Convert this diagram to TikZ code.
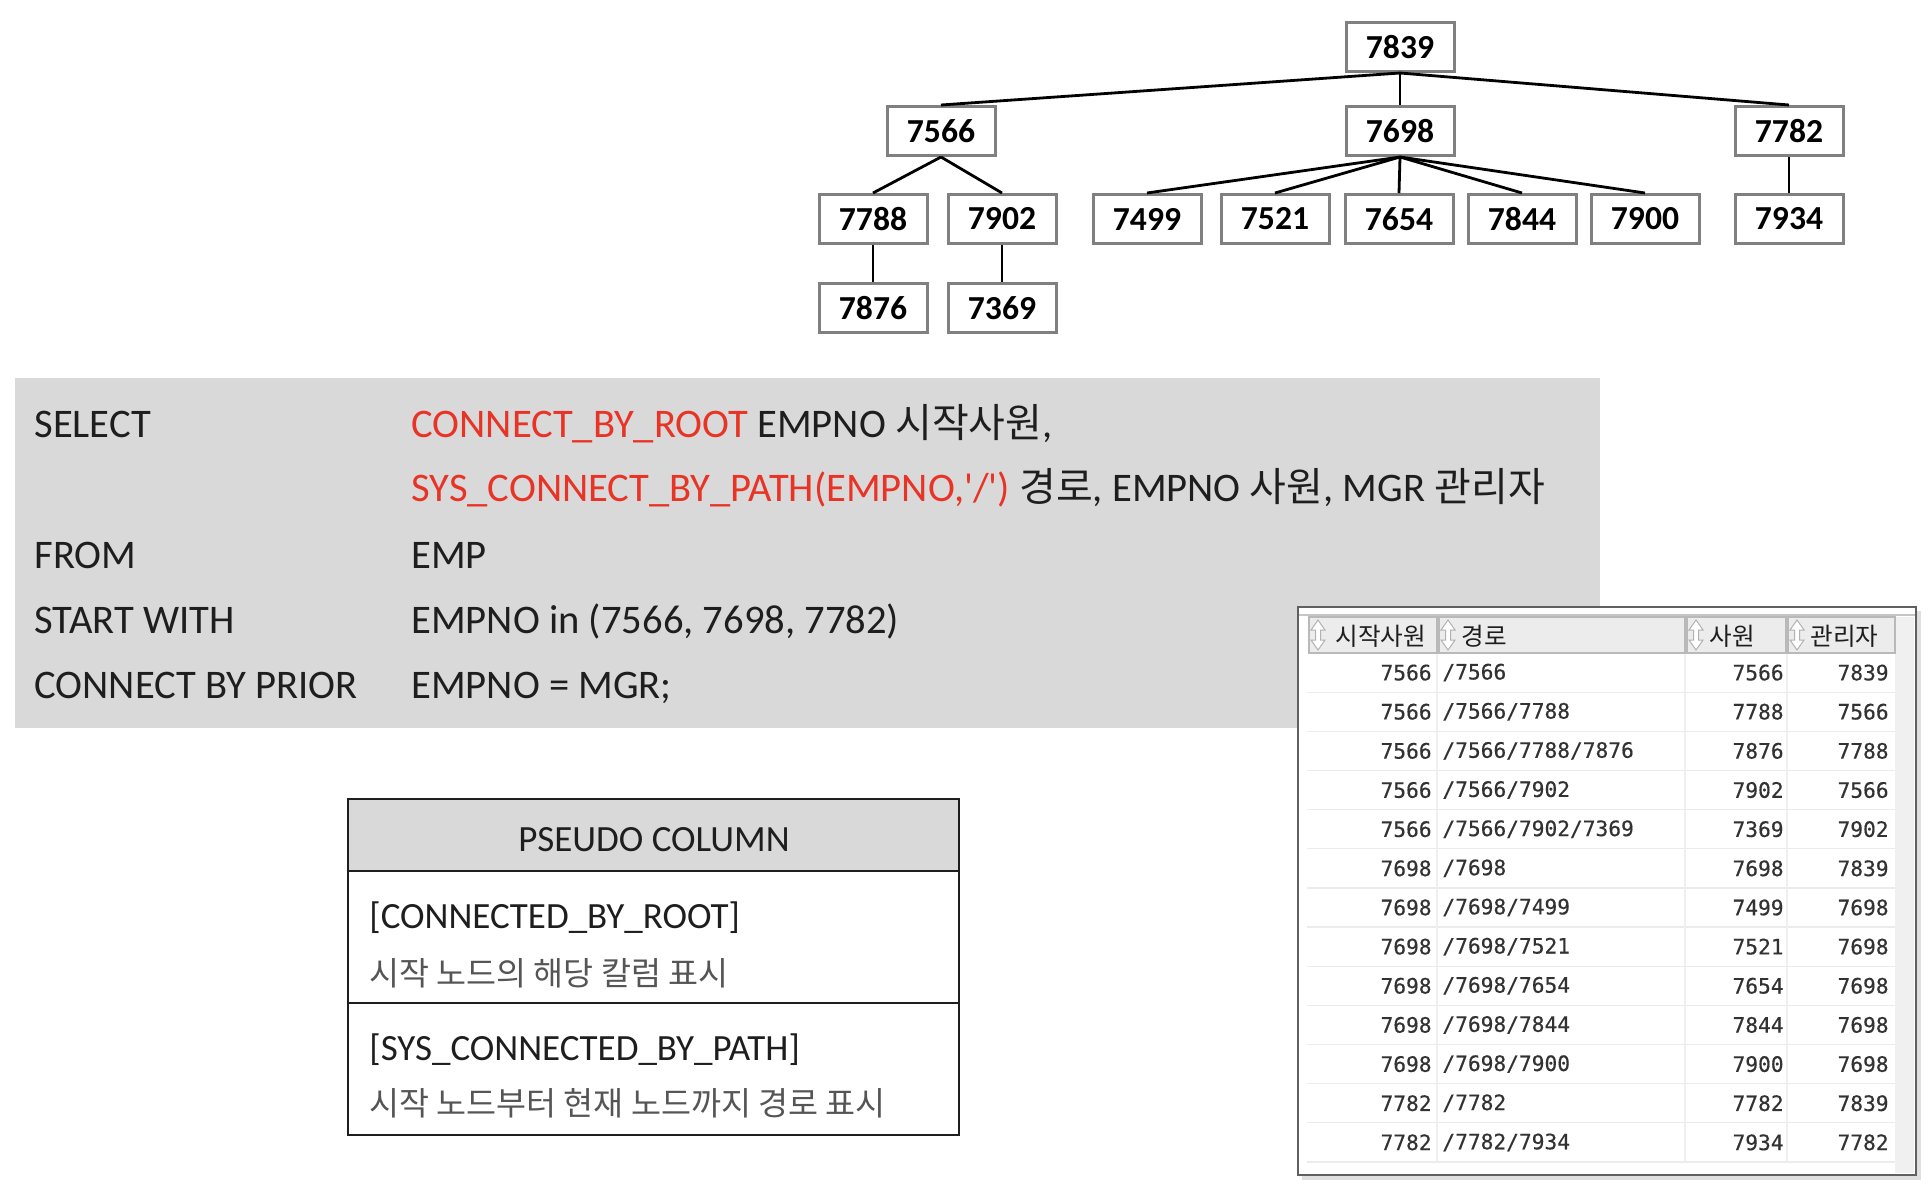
\documentclass[tikz,border=0pt]{standalone}
\usepackage{fontspec}
\setmainfont{Carlito}[Ligatures=TeXOff]
\newfontfamily\kr{Noto Sans CJK KR}
\newfontfamily\treefont{Carlito}
\newfontfamily\resmono{DejaVu Sans Mono}[FakeBold=0.4]
\definecolor{sqlgray}{RGB}{217,217,217}
\definecolor{sqlred}{RGB}{232,52,38}
\definecolor{boxgray}{RGB}{128,128,128}
\definecolor{txtgray}{RGB}{85,85,85}
\definecolor{hdrgray}{RGB}{236,236,236}
\definecolor{inkdark}{RGB}{30,30,30}
\definecolor{celltxt}{RGB}{50,50,50}
\newcommand\sqlkr[1]{{\kr\fontsize{20}{22}\selectfont #1}}
\newcommand\pskr[1]{{\kr\fontsize{16.3}{18}\selectfont #1}}
\tikzset{
  treebox/.style={draw=boxgray, line width=1.5pt, fill=white, minimum width=54pt, minimum height=24.5pt, inner sep=0pt, font=\treefont\bfseries\fontsize{16.8}{17}\selectfont},
  treeedge/.style={line width=1.4pt, black},
  sqltext/.style={anchor=base west, inner sep=0pt, text=inkdark, font=\fontsize{20.3}{23}\selectfont},
  pseudotext/.style={anchor=base west, inner sep=0pt, text=inkdark, font=\fontsize{18.5}{20}\selectfont},
  pseudokr/.style={anchor=base west, inner sep=0pt, text=txtgray},
  cellnum/.style={inner sep=0pt, text=celltxt, font=\resmono\fontsize{10.6}{11}\selectfont},
  hdrcell/.style={draw=gray!55, fill=hdrgray, line width=0.7pt},
  hdrtext/.style={anchor=west, inner sep=0pt, text=inkdark, font=\kr\fontsize{12.3}{13}\selectfont},
  sorticon/.pic={\draw[gray!60, line width=0.5pt, fill=white] (0,-15) -- (7,-5) -- (2.5,-5) -- (2.5,5) -- (7,5) -- (0,15) -- (-7,5) -- (-2.5,5) -- (-2.5,-5) -- (-7,-5) -- cycle;}
}
\newcommand\resrow[5]{%
  \node[cellnum, anchor=east] (ra#1) at (1432, {653+39.15*(#1-0.5)}) {#2};
  \node[cellnum, anchor=west] (rb#1) at (1442, {653+39.15*(#1-0.5)}) {#3};
  \node[cellnum, anchor=east] (rc#1) at (1784, {653+39.15*(#1-0.5)}) {#4};
  \node[cellnum, anchor=east] (rd#1) at (1889, {653+39.15*(#1-0.5)}) {#5};
}
\begin{document}
\begin{tikzpicture}[x=0.5pt,y=-0.5pt]
\useasboundingbox[fill=white] (0,0) rectangle (1932,1195);

% ---------- tree ----------
\node[treebox] (n7839) at (1400,47) {7839};
\node[treebox] (n7566) at (941,131) {7566};
\node[treebox] (n7698) at (1400,131) {7698};
\node[treebox] (n7782) at (1789,131) {7782};
\node[treebox] (n7788) at (873,219) {7788};
\node[treebox] (n7902) at (1002,219) {7902};
\node[treebox] (n7499) at (1147,219) {7499};
\node[treebox] (n7521) at (1275,219) {7521};
\node[treebox] (n7654) at (1399,219) {7654};
\node[treebox] (n7844) at (1522,219) {7844};
\node[treebox] (n7900) at (1645,219) {7900};
\node[treebox] (n7934) at (1789,219) {7934};
\node[treebox] (n7876) at (873,308) {7876};
\node[treebox] (n7369) at (1002,308) {7369};
\foreach \c in {7566,7698,7782} \draw[treeedge] (n7839.south) -- (n\c.north);
\foreach \c in {7788,7902} \draw[treeedge] (n7566.south) -- (n\c.north);
\foreach \c in {7499,7521,7654,7844,7900} \draw[treeedge] (n7698.south) -- (n\c.north);
\draw[treeedge] (n7782.south) -- (n7934.north);
\draw[treeedge] (n7788.south) -- (n7876.north);
\draw[treeedge] (n7902.south) -- (n7369.north);

% ---------- SQL box ----------
\fill[sqlgray] (15,378) rectangle (1600,728);
\node[sqltext] (s1) at (34,437) {SELECT};
\node[sqltext] (s2) at (411,437) {\textcolor{sqlred}{CONNECT\_BY\_ROOT} EMPNO \sqlkr{시작사원},};
\node[sqltext] (s3) at (411,501) {\textcolor{sqlred}{SYS\_CONNECT\_BY\_PATH(EMPNO,'/')} \sqlkr{경로}, EMPNO \sqlkr{사원}, MGR \sqlkr{관리자}};
\node[sqltext] (s4) at (34,568) {FROM};
\node[sqltext] (s5) at (411,568) {EMP};
\node[sqltext] (s6) at (34,633) {START WITH};
\node[sqltext] (s7) at (411,633) {EMPNO in (7566, 7698, 7782)};
\node[sqltext] (s8) at (34,698) {CONNECT BY PRIOR};
\node[sqltext] (s9) at (411,698) {EMPNO = MGR;};

% ---------- pseudo column box ----------
\fill[sqlgray] (348,799) rectangle (959,871);
\draw[inkdark, line width=1.4pt] (348,799) rectangle (959,1135);
\draw[inkdark, line width=1.4pt] (348,871) -- (959,871);
\draw[inkdark, line width=1.4pt] (348,1003) -- (959,1003);
\node[pseudotext, anchor=base] (p0) at (654,851) {PSEUDO COLUMN};
\node[pseudotext] (p1) at (369,928) {[CONNECTED\_BY\_ROOT]};
\node[pseudokr] (p2) at (369,985) {\pskr{시작 노드의 해당 칼럼 표시}};
\node[pseudotext] (p3) at (369,1060) {[SYS\_CONNECTED\_BY\_PATH]};
\node[pseudokr] (p4) at (369,1115) {\pskr{시작 노드부터 현재 노드까지 경로 표시}};

% ---------- result grid ----------
\fill[gray!25] (1302,611) rectangle (1921,1180);
\draw[gray!75!black, line width=1pt, fill=white] (1298,607) rectangle (1916,1175);
\draw[gray!45, line width=0.6pt] (1299,615) -- (1915,615);
\fill[gray!12] (1895,617) rectangle (1914,1173);
\foreach \i in {1,...,13} \draw[gray!15, line width=0.6pt] (1307,{653+39.15*\i}) -- (1895,{653+39.15*\i});
\foreach \xx in {1437,1685,1787} \draw[gray!12, line width=0.6pt] (\xx,653) -- (\xx,1162);
\draw[hdrcell] (1309,617) rectangle (1437,653);
\draw[hdrcell] (1439,617) rectangle (1685,653);
\draw[hdrcell] (1687,617) rectangle (1786,653);
\draw[hdrcell] (1788,617) rectangle (1895,653);
\pic at (1318,635) {sorticon};
\pic at (1448,635) {sorticon};
\pic at (1696,635) {sorticon};
\pic at (1797,635) {sorticon};
\node[hdrtext] (h1) at (1335,636) {시작사원};
\node[hdrtext] (h2) at (1461,636) {경로};
\node[hdrtext] (h3) at (1709,636) {사원};
\node[hdrtext] (h4) at (1810,636) {관리자};
\resrow{1}{7566}{/7566}{7566}{7839}
\resrow{2}{7566}{/7566/7788}{7788}{7566}
\resrow{3}{7566}{/7566/7788/7876}{7876}{7788}
\resrow{4}{7566}{/7566/7902}{7902}{7566}
\resrow{5}{7566}{/7566/7902/7369}{7369}{7902}
\resrow{6}{7698}{/7698}{7698}{7839}
\resrow{7}{7698}{/7698/7499}{7499}{7698}
\resrow{8}{7698}{/7698/7521}{7521}{7698}
\resrow{9}{7698}{/7698/7654}{7654}{7698}
\resrow{10}{7698}{/7698/7844}{7844}{7698}
\resrow{11}{7698}{/7698/7900}{7900}{7698}
\resrow{12}{7782}{/7782}{7782}{7839}
\resrow{13}{7782}{/7782/7934}{7934}{7782}
\end{tikzpicture}
\end{document}
